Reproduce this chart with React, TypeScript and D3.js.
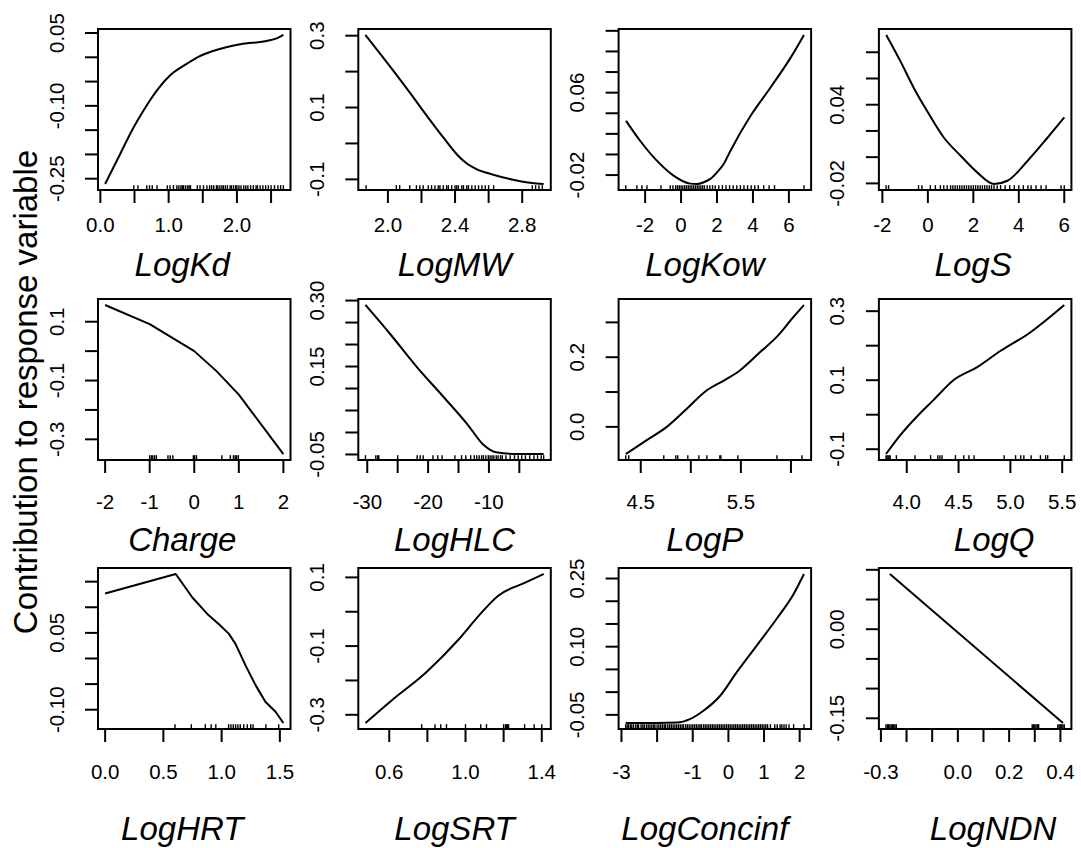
import * as d3 from "d3";

// ---- partial dependence curves ----
const logKdX = [0.07, 0.29, 0.48, 0.63, 0.84, 1.03, 1.27, 1.45, 1.65, 2.05, 2.45, 2.6, 2.68];
const logKdY = [-0.261, -0.199, -0.146, -0.11, -0.066, -0.036, -0.013, 0.002, 0.013, 0.027, 0.034, 0.04, 0.046];
const logKdRug = [0.49, 0.55, 0.68, 0.72, 0.76, 0.83, 0.98, 1.02, 1.07, 1.12, 1.15, 1.18, 1.2, 1.22, 1.25, 1.28, 1.3, 1.32,
  1.42, 1.46, 1.51, 1.56, 1.6, 1.63, 1.66, 1.7, 1.72, 1.75, 1.78, 1.8, 1.83, 1.86, 1.9, 1.92, 1.95, 1.98, 2.0, 2.03,
  2.06, 2.1, 2.13, 2.16, 2.2, 2.24, 2.28, 2.3, 2.34, 2.38, 2.42, 2.46, 2.5, 2.55, 2.6, 2.64, 2.68];

const logMwX = [1.866, 2.033, 2.133, 2.232, 2.331, 2.41, 2.47, 2.53, 2.628, 2.788, 2.928];
const logMwY = [0.302, 0.202, 0.14, 0.077, 0.016, -0.03, -0.056, -0.072, -0.087, -0.105, -0.113];
const logMwRug = [1.87, 2.05, 2.07, 2.13, 2.17, 2.19, 2.21, 2.24, 2.26, 2.28, 2.3, 2.31, 2.33, 2.35, 2.36, 2.38, 2.4,
  2.41, 2.42, 2.44, 2.45, 2.47, 2.48, 2.5, 2.52, 2.54, 2.56, 2.58, 2.6, 2.63, 2.86, 2.88, 2.9, 2.92];

const logKowX = [-3.06, -2.28, -1.35, -0.42, 0.51, 0.9, 1.26, 1.63, 2.0, 2.37, 2.75, 3.87, 4.98, 6.1, 6.84];
const logKowY = [0.0327, 0.0133, -0.006, -0.0205, -0.0283, -0.0287, -0.027, -0.0237, -0.0173, -0.0092, 0.0037,
  0.0375, 0.065, 0.094, 0.116];
const logKowRug = [-3.08, -2.46, -2.18, -1.9, -1.12, -0.6, -0.45, -0.3, -0.2, -0.1, 0.0, 0.1, 0.2, 0.3, 0.4, 0.5, 0.6,
  0.7, 0.8, 0.9, 1.0, 1.1, 1.2, 1.3, 1.45, 1.6, 1.75, 1.9, 2.1, 2.3, 2.5, 2.7, 2.9, 3.1, 3.3, 3.5, 3.7, 3.9, 4.1,
  4.3, 4.6, 4.9, 5.2, 6.84];

const logSX = [-1.83, -1.22, -0.63, -0.04, 0.7, 1.44, 2.17, 2.91, 3.5, 4.39, 5.27, 6.0];
const logSY = [0.0932, 0.0736, 0.0532, 0.0354, 0.015, 0.0011, -0.0116, -0.0205, -0.018, -0.0027, 0.015, 0.0303];
const logSRug = [-1.84, -1.73, -0.41, -0.26, 0.11, 0.33, 0.55, 0.7, 0.85, 1.0, 1.1, 1.2, 1.3, 1.4, 1.5, 1.6, 1.7,
  1.8, 1.9, 2.0, 2.1, 2.2, 2.3, 2.4, 2.5, 2.6, 2.7, 2.8, 2.91, 3.05, 3.2, 3.4, 3.6, 3.8, 4.0, 4.2, 4.4, 4.54, 4.76,
  4.98, 5.2, 5.86, 6.0];

const chargeX = [-2, -1, -0.5, 0, 0.5, 1, 2];
const chargeY = [0.157, 0.092, 0.046, 0.0, -0.068, -0.148, -0.35];
const chargeRug = [-1.0, -0.96, -0.93, -0.89, -0.85, -0.59, -0.54, -0.48, -0.02, 0.01, 0.05, 0.62, 0.81, 0.88, 0.92,
  0.95, 0.99];

const logHlcX = [-30.3, -26.0, -21.8, -17.6, -13.5, -10.9, -8.8, -5.2, -1.0];
const logHlcY = [0.29, 0.22, 0.148, 0.083, 0.018, -0.028, -0.045, -0.049, -0.049];
const logHlcRug = [-30.3, -28.6, -28.3, -28.1, -25, -21.8, -21.3, -20.8, -19.2, -18.4, -17.7, -15.6, -14.5, -13.8,
  -13, -12.4, -12, -11.6, -11.2, -10.9, -10.5, -10.1, -9.8, -9.5, -9.2, -8.8, -8.5, -8.1, -7.8, -7.2, -6.5, -5.8,
  -5.2, -4.6, -4, -3.3, -2.6, -2, -1.4, -1.0];

const logPX = [4.35, 4.56, 4.76, 4.96, 5.16, 5.33, 5.49, 5.69, 5.87, 6.02, 6.13];
const logPY = [-0.078, -0.038, 0.0, 0.052, 0.105, 0.133, 0.162, 0.214, 0.262, 0.314, 0.35];
const logPRug = [4.35, 4.38, 4.73, 4.85, 4.87, 4.97, 5.08, 5.16, 5.29, 5.3, 5.47, 5.86, 6.11];

const logQX = [3.8, 3.93, 4.1, 4.26, 4.45, 4.68, 4.91, 5.17, 5.52];
const logQY = [-0.114, -0.062, -0.005, 0.043, 0.1, 0.138, 0.186, 0.234, 0.318];
const logQRug = [3.8, 3.81, 3.82, 3.83, 3.84, 3.9, 4.08, 4.23, 4.3, 4.32, 4.34, 4.47, 4.55, 4.6, 4.65, 4.94, 5.05,
  5.1, 5.13, 5.2, 5.29, 5.34, 5.36, 5.52];

const logHrtX = [0.0, 0.606, 0.69, 0.749, 0.877, 0.977, 1.063, 1.12, 1.206, 1.291, 1.377, 1.463, 1.53];
const logHrtY = [0.127, 0.165, 0.138, 0.119, 0.087, 0.067, 0.048, 0.028, -0.014, -0.052, -0.085, -0.104, -0.126];
const logHrtRug = [0.6, 0.74, 0.86, 0.91, 0.95, 1.06, 1.08, 1.1, 1.12, 1.14, 1.16, 1.19, 1.22, 1.25, 1.27, 1.38, 1.49];

const logSrtX = [0.475, 0.617, 0.79, 0.965, 1.069, 1.17, 1.31, 1.41];
const logSrtY = [-0.324, -0.256, -0.178, -0.08, -0.012, 0.046, 0.084, 0.11];
const logSrtRug = [0.77, 0.84, 0.87, 0.9, 1.0, 1.08, 1.11, 1.2, 1.21, 1.215, 1.22, 1.226, 1.31, 1.36, 1.4];

const logConcX = [-2.88, -2.0, -1.43, -1.08, -0.7, -0.23, 0.235, 0.8, 1.36, 1.83, 2.12];
const logConcY = [-0.068, -0.068, -0.067, -0.0595, -0.041, -0.008, 0.044, 0.103, 0.162, 0.216, 0.26];
const logConcRug = [-2.88, -2.84, -2.8, -2.75, -2.71, -2.66, -2.6, -2.55, -2.52, -2.45, -2.4, -2.36, -2.3, -2.25,
  -2.2, -2.15, -2.1, -2.06, -2.0, -1.95, -1.9, -1.85, -1.8, -1.76, -1.7, -1.65, -1.6, -1.55, -1.5, -1.45, -1.4,
  -1.35, -1.3, -1.26, -1.2, -1.15, -1.1, -1.05, -1.0, -0.95, -0.9, -0.85, -0.8, -0.76, -0.7, -0.65, -0.6, -0.55,
  -0.5, -0.45, -0.4, -0.35, -0.3, -0.25, -0.2, -0.15, -0.1, -0.05, 0.0, 0.05, 0.1, 0.15, 0.2, 0.25, 0.3, 0.35, 0.4,
  0.45, 0.5, 0.55, 0.6, 0.65, 0.7, 0.75, 0.8, 0.85, 0.9, 0.95, 1.0, 1.05, 1.1, 1.18, 1.3, 1.37, 1.45, 1.5, 1.56,
  1.62, 1.7, 1.83, 2.12];

const logNdnX = [-0.265, 0.41];
const logNdnY = [0.093, -0.158];
const logNdnRug = [-0.28, -0.275, -0.27, -0.265, -0.26, -0.255, -0.25, -0.245, -0.24, 0.29, 0.295, 0.3, 0.305,
  0.31, 0.315, 0.39, 0.395, 0.4, 0.405, 0.41, 0.415];

// ---- axis ticks and the labels R managed to fit ----
const names = ["LogKd", "LogMW", "LogKow", "LogS", "Charge", "LogHLC", "LogP", "LogQ", "LogHRT", "LogSRT", "LogConcinf", "LogNDN"];
const xTicks = [
  [0, 0.5, 1, 1.5, 2, 2.5], [2.0, 2.2, 2.4, 2.6, 2.8], [-2, 0, 2, 4, 6], [-2, 0, 2, 4, 6],
  [-2, -1, 0, 1, 2], [-30, -25, -20, -15, -10, -5], [4.5, 5, 5.5, 6], [4, 4.5, 5, 5.5],
  [0, 0.5, 1, 1.5], [0.6, 0.8, 1.0, 1.2, 1.4], [-3, -2, -1, 0, 1, 2], [-0.3, -0.2, -0.1, 0, 0.1, 0.2, 0.3, 0.4],
];
const xLabels = [
  ["0.0", "1.0", "2.0"], ["2.0", "2.4", "2.8"], ["-2", "0", "2", "4", "6"], ["-2", "0", "2", "4", "6"],
  ["-2", "-1", "0", "1", "2"], ["-30", "-20", "-10"], ["4.5", "5.5"], ["4.0", "4.5", "5.0", "5.5"],
  ["0.0", "0.5", "1.0", "1.5"], ["0.6", "1.0", "1.4"], ["-3", "-1", "0", "1", "2"], ["-0.3", "0.0", "0.2", "0.4"],
];
const yTicks = [
  [-0.25, -0.2, -0.15, -0.1, -0.05, 0, 0.05], [-0.1, 0, 0.1, 0.2, 0.3], [-0.02, 0, 0.02, 0.04, 0.06, 0.08, 0.1, 0.12],
  [-0.02, 0, 0.02, 0.04, 0.06, 0.08], [-0.3, -0.2, -0.1, 0, 0.1], [-0.05, 0, 0.05, 0.1, 0.15, 0.2, 0.25, 0.3],
  [0, 0.1, 0.2, 0.3], [-0.1, 0, 0.1, 0.2, 0.3], [-0.1, -0.05, 0, 0.05, 0.1, 0.15], [-0.3, -0.2, -0.1, 0, 0.1],
  [-0.05, 0, 0.05, 0.1, 0.15, 0.2, 0.25], [-0.15, -0.1, -0.05, 0, 0.05, 0.1],
];
const yLabels = [
  ["0.05", "-0.10", "-0.25"], ["0.3", "0.1", "-0.1"], ["0.06", "-0.02"], ["0.04", "-0.02"],
  ["0.1", "-0.1", "-0.3"], ["0.30", "0.15", "-0.05"], ["0.2", "0.0"], ["0.3", "0.1", "-0.1"],
  ["0.05", "-0.10"], ["0.1", "-0.1", "-0.3"], ["0.25", "0.10", "-0.05"], ["0.00", "-0.15"],
];

const curvesX = [logKdX, logMwX, logKowX, logSX, chargeX, logHlcX, logPX, logQX, logHrtX, logSrtX, logConcX, logNdnX];
const curvesY = [logKdY, logMwY, logKowY, logSY, chargeY, logHlcY, logPY, logQY, logHrtY, logSrtY, logConcY, logNdnY];
const rugs = [logKdRug, logMwRug, logKowRug, logSRug, chargeRug, logHlcRug, logPRug, logQRug, logHrtRug, logSrtRug, logConcRug, logNdnRug];
const straight = ["Charge", "LogHRT", "LogNDN"];

// ---- layout ----
const COL_LEFT = 98;
const COL_STEP = 260.3;
const BOX_W = 192.5;
const ROW_TOP = [29, 299, 568];
const BOX_H = 161;
const TICK_LEN = 13;
const XLAB_Y = [224, 501, 771];
const TITLE_Y = [276, 551, 840];
const TITLE_DX = [[-12, 0, -10, -2], [-12, 0, -10, 19], [-12, 0, -10, 18]];
const FONT = "'Liberation Sans', Arial, Helvetica, sans-serif";

// R style axis range: data extent widened by 4% each side
const rRange = (v: number[]) => {
  const [lo, hi] = d3.extent(v) as [number, number];
  const pad = (hi - lo) * 0.04;
  return [lo - pad, hi + pad];
};

const Panel = ({ i }: { i: number }) => {
  const col = i % 4;
  const row = Math.floor(i / 4);
  const left = COL_LEFT + col * COL_STEP;
  const top = ROW_TOP[row];
  const bottom = top + BOX_H;
  const right = left + BOX_W;

  const xs = curvesX[i];
  const ys = curvesY[i];
  const x = d3.scaleLinear().domain(rRange([...xs, ...rugs[i]])).range([left, right]);
  const y = d3.scaleLinear().domain(rRange(ys)).range([bottom, top]);
  const [y0, y1] = y.domain();
  const [x0, x1] = x.domain();

  const line = d3
    .line<number>()
    .x((d) => x(xs[d]))
    .y((d) => y(ys[d]))
    .curve(straight.includes(names[i]) ? d3.curveLinear : d3.curveMonotoneX);
  const path = line(d3.range(xs.length)) || "";
  const rugLen = BOX_H * 0.03;

  return (
    <g>
      <rect x={left} y={top} width={BOX_W} height={BOX_H} fill="none" stroke="#000" strokeWidth={2} />
      <path d={path} fill="none" stroke="#000" strokeWidth={2} strokeLinejoin="round" />
      {rugs[i].map((r, k) => (
        <line key={k} x1={x(r)} x2={x(r)} y1={bottom} y2={bottom - rugLen} stroke="#000" strokeWidth={1.4} />
      ))}
      {xTicks[i].filter((t) => t >= x0 && t <= x1).map((t) => (
        <line key={"xt" + t} x1={x(t)} x2={x(t)} y1={bottom} y2={bottom + TICK_LEN} stroke="#000" strokeWidth={2} />
      ))}
      {xLabels[i].map((s) => (
        <text key={"xl" + s} x={x(+s)} y={XLAB_Y[row]} textAnchor="middle" dominantBaseline="central" fontSize={20.5}>
          {s}
        </text>
      ))}
      {yTicks[i].filter((t) => t >= y0 && t <= y1).map((t) => (
        <line key={"yt" + t} x1={left} x2={left - TICK_LEN} y1={y(t)} y2={y(t)} stroke="#000" strokeWidth={2} />
      ))}
      {yLabels[i].map((s) => (
        <text
          key={"yl" + s}
          transform={`translate(${left - 42},${y(+s)}) rotate(-90)`}
          textAnchor="middle"
          dominantBaseline="central"
          fontSize={20.5}
        >
          {s}
        </text>
      ))}
      <text
        x={(left + right) / 2 + TITLE_DX[row][col]}
        y={TITLE_Y[row]}
        textAnchor="middle"
        fontSize={33}
        fontStyle="italic"
      >
        {names[i]}
      </text>
    </g>
  );
};

export default function App() {
  return (
    <svg
      width={1081}
      height={848}
      style={{ position: "absolute", left: 0, top: 0, background: "#fff" }}
      fontFamily={FONT}
    >
      <rect width={1081} height={848} fill="#fff" />
      {names.map((n, i) => (
        <Panel key={n} i={i} />
      ))}
      <text transform="translate(37,392) rotate(-90)" textAnchor="middle" fontSize={33}>
        Contribution to response variable
      </text>
    </svg>
  );
}
